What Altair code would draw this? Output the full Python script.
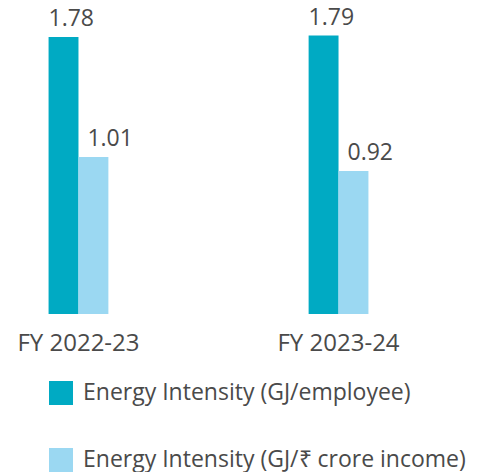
import altair as alt
import pandas as pd

years = ["FY 2022-23", "FY 2023-24"]
series = ["Energy Intensity (GJ/employee)", "Energy Intensity (GJ/₹ crore income)"]
per_employee = [1.78, 1.79]
per_income = [1.01, 0.92]
colors = ["#00AAC3", "#9BD8F2"]

rows = []
for i, y in enumerate(years):
    rows.append({"year": y, "series": series[0], "value": per_employee[i]})
    rows.append({"year": y, "series": series[1], "value": per_income[i]})
df = pd.DataFrame(rows)

FONT = "Open Sans"
FS = 24
TXT = "#4a4a4a"
x = alt.X("year:N", sort=years, title=None,
          scale=alt.Scale(paddingInner=0.77, paddingOuter=0.156),
          axis=alt.Axis(labelAngle=0, ticks=False, domain=False, labelPadding=17,
                        labelFontSize=FS, labelColor=TXT, labelFont=FONT))
xo = alt.XOffset("series:N", sort=series, scale=alt.Scale(paddingInner=0, paddingOuter=0))
y = alt.Y("value:Q", axis=None, scale=alt.Scale(domain=[0, 1.967], nice=False))

bars = alt.Chart(df).mark_bar().encode(
    x=x, xOffset=xo, y=y,
    color=alt.Color("series:N", sort=series,
                    scale=alt.Scale(domain=series, range=colors),
                    legend=alt.Legend(title=None, orient="none", legendX=41, legendY=373,
                                      direction="vertical", symbolType="square",
                                      symbolSize=576, symbolStrokeWidth=0,
                                      labelFontSize=23, labelColor=TXT, labelFont=FONT,
                                      labelOffset=10, rowPadding=43, padding=0,
                                      labelLimit=500)),
)

def value_labels(s, dx):
    return alt.Chart(df).transform_filter(alt.datum.series == s).mark_text(
        baseline="alphabetic", align="left", dy=-11, dx=dx, fontSize=23,
        color=TXT, font=FONT).encode(
        x=alt.X("year:N", sort=years, title=None, bandPosition=0),
        xOffset=xo, y=y, text=alt.Text("value:Q", format=".2f"))

labels1 = value_labels(series[0], -15)
labels2 = value_labels(series[1], -6)

chart = alt.layer(bars, labels1, labels2).properties(
    width=401, height=306,
    autosize=alt.AutoSizeParams(type="none"),
    padding={"left": 0, "top": 0, "right": 63, "bottom": 158},
).configure_view(stroke=None).configure_axis(grid=False)

chart.save("out.html", embed_options={"renderer": "svg", "actions": False})
